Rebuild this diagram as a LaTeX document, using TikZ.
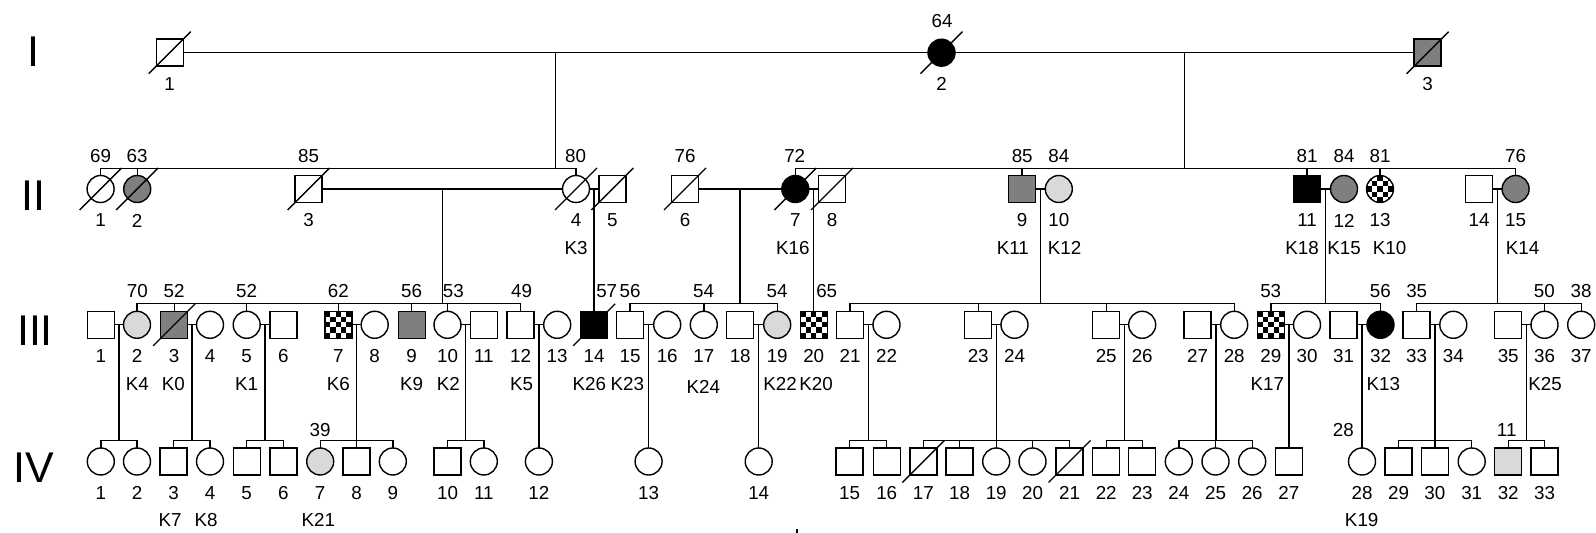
\documentclass[tikz,border=0pt]{standalone}
\usepackage{fontspec}
\setmainfont{Liberation Sans}
\usetikzlibrary{calc}
\definecolor{dkgrey}{HTML}{7F7F7F}
\definecolor{ltgrey}{HTML}{D9D9D9}
\newcommand\Pers[6]{%
  \node[#2,#3] (#1) at (#4,#5) {};
  \node[txt] (#1-n) at (#4,#5+31.5) {#6};}
\newcommand\Dec[1]{\draw ([shift={(-21,21)}]#1.center) -- ([shift={(21,-21)}]#1.center);}
\begin{document}
\begin{tikzpicture}[x=0.5pt,y=-0.5pt,line width=0.7pt,
  ind/.style={draw,inner sep=0pt,outer sep=0pt,minimum size=13.5pt},
  m/.style={ind,rectangle},
  f/.style={ind,circle},
  wt/.style={fill=white},
  dk/.style={fill=dkgrey},
  lt/.style={fill=ltgrey},
  bk/.style={fill=black},
  chk/.style={fill=white,path picture={
    \foreach \i in {0,...,4}{\foreach \j in {0,...,4}{
      \ifodd\numexpr\i+\j\relax\else
        \fill[black] ([shift={(\i*5.4-13.5,\j*5.4-13.5)}]path picture bounding box.center) rectangle ++(5.4,5.4);
      \fi}}}},
  txt/.style={font=\fontsize{9.4}{11}\selectfont,inner sep=0pt},
  gen/.style={font=\fontsize{21.5}{24}\selectfont,inner sep=0pt}]
\useasboundingbox (0,0) rectangle (1596,533);
\coordinate (yII) at (0,168.3);
\coordinate (yIII) at (0,303.3);
\coordinate (yIV) at (0,440.3);
% generation numerals
\node[gen] (gI) at (33,52) {I};
\node[gen] (gII) at (33,196) {II};
\node[gen] (gIII) at (35,331) {III};
\node[gen] (gIV) at (34,468) {IV};
% Gen I marriage line (behind symbols)
\path (169.7,52.7) coordinate (pI1) (941.5,52.7) coordinate (pI2) (1427.6,52.7) coordinate (pI3);
\draw (pI1) -- (pI3);
\coordinate (mA) at ($(pI1)!0.5!(pI2)$);
\coordinate (mB) at ($(pI2)!0.5!(pI3)$);
% ---------- persons ----------
% Gen I
\Pers{I1}{m}{wt}{169.7}{52.7}{1}
\Pers{I2}{f}{bk}{941.5}{52.7}{2}
\Pers{I3}{m}{dk}{1427.6}{52.7}{3}
% Gen II
\Pers{II1}{f}{wt}{100.6}{189}{1}
\Pers{II2}{f}{dk}{137.2}{189}{2}
\Pers{II3}{m}{wt}{308.6}{189}{3}
\Pers{II4}{f}{wt}{576}{189}{4}
\Pers{II5}{m}{wt}{612.3}{189}{5}
\Pers{II6}{m}{wt}{685}{189}{6}
\Pers{II7}{f}{bk}{795.3}{189}{7}
\Pers{II8}{m}{wt}{832}{189}{8}
\Pers{II9}{m}{dk}{1022}{189}{9}
\Pers{II10}{f}{lt}{1058.8}{189}{10}
\Pers{II11}{m}{bk}{1307}{189}{11}
\Pers{II12}{f}{dk}{1344}{189}{12}
\Pers{II13}{f}{chk}{1380}{189}{13}
\Pers{II14}{m}{wt}{1479}{189}{14}
\Pers{II15}{f}{dk}{1515.6}{189}{15}
% Gen III
\Pers{III1}{m}{wt}{100.8}{324.8}{1}
\Pers{III2}{f}{lt}{137}{324.8}{2}
\Pers{III3}{m}{dk}{174.2}{324.8}{3}
\Pers{III4}{f}{wt}{210}{324.8}{4}
\Pers{III5}{f}{wt}{246.7}{324.8}{5}
\Pers{III6}{m}{wt}{283.3}{324.8}{6}
\Pers{III7}{m}{chk}{338.3}{324.8}{7}
\Pers{III8}{f}{wt}{374.7}{324.8}{8}
\Pers{III9}{m}{dk}{411.7}{324.8}{9}
\Pers{III10}{f}{wt}{447.5}{324.8}{10}
\Pers{III11}{m}{wt}{483.8}{324.8}{11}
\Pers{III12}{m}{wt}{520.5}{324.8}{12}
\Pers{III13}{f}{wt}{557.2}{324.8}{13}
\Pers{III14}{m}{bk}{594.2}{324.8}{14}
\Pers{III15}{m}{wt}{630}{324.8}{15}
\Pers{III16}{f}{wt}{667.2}{324.8}{16}
\Pers{III17}{f}{wt}{703.8}{324.8}{17}
\Pers{III18}{m}{wt}{740.2}{324.8}{18}
\Pers{III19}{f}{lt}{777.2}{324.8}{19}
\Pers{III20}{m}{chk}{813.7}{324.8}{20}
\Pers{III21}{m}{wt}{850}{324.8}{21}
\Pers{III22}{f}{wt}{886.5}{324.8}{22}
\Pers{III23}{m}{wt}{978.2}{324.8}{23}
\Pers{III24}{f}{wt}{1014.5}{324.8}{24}
\Pers{III25}{m}{wt}{1106.2}{324.8}{25}
\Pers{III26}{f}{wt}{1142.2}{324.8}{26}
\Pers{III27}{m}{wt}{1197.5}{324.8}{27}
\Pers{III28}{f}{wt}{1234.2}{324.8}{28}
\Pers{III29}{m}{chk}{1270.8}{324.8}{29}
\Pers{III30}{f}{wt}{1307}{324.8}{30}
\Pers{III31}{m}{wt}{1343.5}{324.8}{31}
\Pers{III32}{f}{bk}{1380.5}{324.8}{32}
\Pers{III33}{m}{wt}{1416.5}{324.8}{33}
\Pers{III34}{f}{wt}{1453.3}{324.8}{34}
\Pers{III35}{m}{wt}{1508.2}{324.8}{35}
\Pers{III36}{f}{wt}{1544.5}{324.8}{36}
\Pers{III37}{f}{wt}{1581.2}{324.8}{37}
% Gen IV
\Pers{IV1}{f}{wt}{100.8}{461.5}{1}
\Pers{IV2}{f}{wt}{137}{461.5}{2}
\Pers{IV3}{m}{wt}{173.5}{461.5}{3}
\Pers{IV4}{f}{wt}{210}{461.5}{4}
\Pers{IV5}{m}{wt}{246.7}{461.5}{5}
\Pers{IV6}{m}{wt}{283.3}{461.5}{6}
\Pers{IV7}{f}{lt}{320.2}{461.5}{7}
\Pers{IV8}{m}{wt}{356.5}{461.5}{8}
\Pers{IV9}{f}{wt}{392.8}{461.5}{9}
\Pers{IV10}{m}{wt}{447.5}{461.5}{10}
\Pers{IV11}{f}{wt}{483.8}{461.5}{11}
\Pers{IV12}{f}{wt}{538.9}{461.5}{12}
\Pers{IV13}{f}{wt}{648.6}{461.5}{13}
\Pers{IV14}{f}{wt}{758.7}{461.5}{14}
\Pers{IV15}{m}{wt}{849.5}{461.5}{15}
\Pers{IV16}{m}{wt}{886.7}{461.5}{16}
\Pers{IV17}{m}{wt}{923.3}{461.5}{17}
\Pers{IV18}{m}{wt}{959.5}{461.5}{18}
\Pers{IV19}{f}{wt}{996.2}{461.5}{19}
\Pers{IV20}{f}{wt}{1032.5}{461.5}{20}
\Pers{IV21}{m}{wt}{1069.5}{461.5}{21}
\Pers{IV22}{m}{wt}{1106.2}{461.5}{22}
\Pers{IV23}{m}{wt}{1142.2}{461.5}{23}
\Pers{IV24}{f}{wt}{1178.8}{461.5}{24}
\Pers{IV25}{f}{wt}{1215.5}{461.5}{25}
\Pers{IV26}{f}{wt}{1252.2}{461.5}{26}
\Pers{IV27}{m}{wt}{1288.9}{461.5}{27}
\Pers{IV28}{f}{wt}{1362}{461.5}{28}
\Pers{IV29}{m}{wt}{1398.5}{461.5}{29}
\Pers{IV30}{m}{wt}{1434.9}{461.5}{30}
\Pers{IV31}{f}{wt}{1471.7}{461.5}{31}
\Pers{IV32}{m}{lt}{1508.2}{461.5}{32}
\Pers{IV33}{m}{wt}{1544.5}{461.5}{33}
% ---------- connectors ----------
\draw (mA) -- (mA |- yII);
\draw (mB) -- (mB |- yII);
\draw (II1 |- yII) -- (II4 |- yII);
\draw (II7 |- yII) -- (II15 |- yII);
\foreach \c in {II1,II2,II4,II7,II9,II11,II13,II15}{\draw (\c.north) -- (\c |- yII);}
\foreach \a/\b in {II3/II4,II4/II5,II6/II7,II7/II8,II9/II10,II11/II12,II14/II15}{\draw (\a.east) -- (\b.west);}
\foreach \a/\b in {II3/II4,II6/II7,II9/II10,II11/II12,II14/II15}{
  \coordinate (mm) at ($(\a)!0.5!(\b)$);
  \draw (mm) -- (mm |- yIII);}
\foreach \a/\b/\c in {II4/II5/III14,II7/II8/III20}{
  \coordinate (mm) at ($(\a)!0.5!(\b)$);
  \draw (mm) -- (mm |- \c.north);}
\foreach \l/\r in {III2/III12,III15/III19,III21/III28,III29/III32,III33/III37}{\draw (\l |- yIII) -- (\r |- yIII);}
\foreach \c in {III2,III3,III5,III7,III9,III10,III12,III15,III17,III19,III21,III23,III25,III28,III29,III32,III33,III36,III37}{\draw (\c.north) -- (\c |- yIII);}
\foreach \a/\b in {III1/III2,III3/III4,III5/III6,III7/III8,III10/III11,III12/III13,III15/III16,III18/III19,III21/III22,III23/III24,III25/III26,III27/III28,III29/III30,III31/III32,III33/III34,III35/III36}{\draw (\a.east) -- (\b.west);}
\foreach \a/\b/\l/\r in {III1/III2/IV1/IV2,III3/III4/IV3/IV4,III5/III6/IV5/IV6,III7/III8/IV7/IV9,III10/III11/IV10/IV11,III21/III22/IV15/IV16,III23/III24/IV17/IV21,III25/III26/IV22/IV23,III27/III28/IV24/IV26,III33/III34/IV29/IV31,III35/III36/IV32/IV33}{
  \coordinate (mm) at ($(\a)!0.5!(\b)$);
  \draw (mm) -- (mm |- yIV);
  \draw (\l |- yIV) -- (\r |- yIV);}
\foreach \a/\b/\c in {III12/III13/IV12,III15/III16/IV13,III18/III19/IV14,III29/III30/IV27,III31/III32/IV28}{
  \coordinate (mm) at ($(\a)!0.5!(\b)$);
  \draw (mm) -- (mm |- \c.north);}
\foreach \c in {IV1,IV2,IV3,IV4,IV5,IV6,IV7,IV8,IV9,IV10,IV11,IV15,IV16,IV17,IV18,IV19,IV20,IV21,IV22,IV23,IV24,IV25,IV26,IV29,IV30,IV31,IV32,IV33}{\draw (\c.north) -- (\c |- yIV);}
% deceased
\foreach \c in {I1,I2,I3,II1,II2,II3,II4,II5,II6,II7,II8,III3,III14,IV17,IV21}{\Dec{\c}}
% ages
\foreach \x/\y/\t [count=\k] in {942/20.7/64,
  100.6/156/69,137.2/156/63,308.6/156/85,575.5/156/80,685/156/76,794.7/156/72,1022.2/156/85,1058.8/156/84,1307/156/81,1344/156/84,1380/156/81,1515.6/156/76,
  137.3/291.5/70,174.2/291.5/52,246.7/291.5/52,338.3/291.5/62,411.7/291.5/56,453.3/291.5/53,521.7/291.5/49,606.7/291.5/57,630/291.5/56,703.5/291.5/54,777/291.5/54,826.7/291.5/65,1270.7/291.5/53,1380.3/291.5/56,1416.7/291.5/35,1544.4/291.5/50,1581/291.5/38,
  320.2/430/39,1343.3/430/28,1506.7/430/11}{\node[txt] (age\k) at (\x,\y) {\t};}
% K labels
\foreach \x/\y/\t [count=\k] in {576/248/K3,792.8/248/K16,1012.8/248/K11,1064.5/248/K12,1302/248/K18,1344/248/K15,1389.6/248/K10,1522.6/248/K14,
  137.3/384/K4,173.3/384/K0,246.7/384/K1,338.3/384/K6,411.7/384/K9,448.3/384/K2,521.7/384/K5,589.3/384/K26,627.3/384/K23,703.3/387.3/K24,780/384/K22,816/384/K20,1267.3/384/K17,1383.3/384/K13,1545/384/K25,
  170/520/K7,206/520/K8,318.3/520/K21,1361.7/520/K19}{\node[txt] (kl\k) at (\x,\y) {\t};}
% small mark at bottom edge
\coordinate (tk1) at (797,529);
\coordinate (tk2) at (797,533);
\draw (tk1) -- (tk2);
\end{tikzpicture}
\end{document}
